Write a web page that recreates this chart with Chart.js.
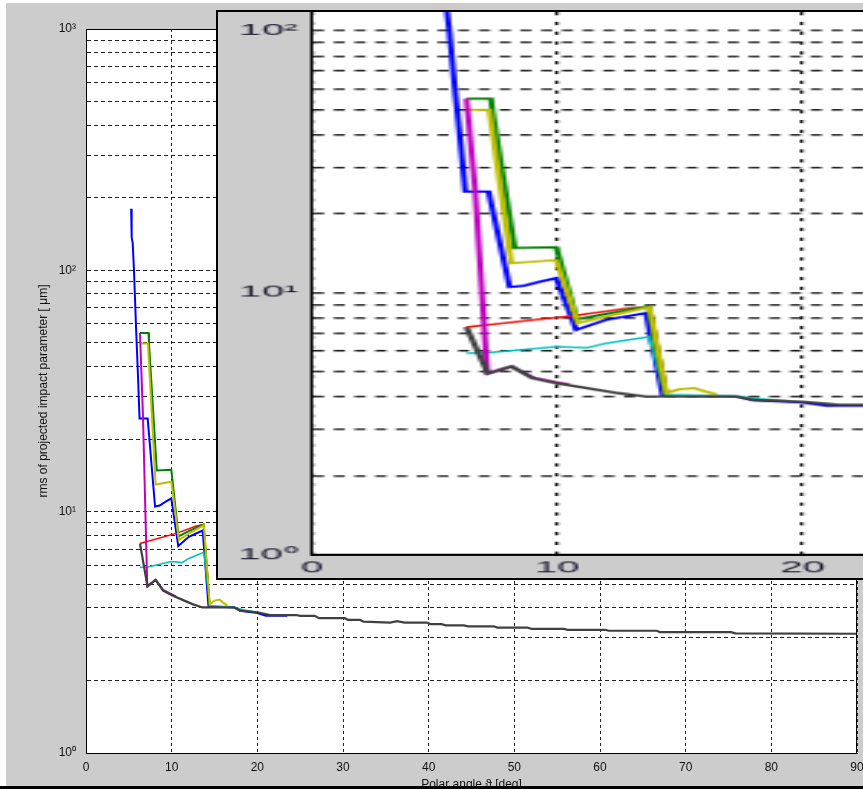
<!DOCTYPE html>
<html>
<head>
<meta charset="utf-8">
<script src="https://cdn.jsdelivr.net/npm/chart.js@4.4.1/dist/chart.umd.min.js"></script>
<style>
  html, body { margin: 0; padding: 0; width: 863px; height: 789px; overflow: hidden; background: #fff; }
  #figure { position: absolute; left: 6px; top: 3px; width: 857px; height: 783px; background: #cccccc; }
  #chart-main { position: absolute; left: 0; top: 0; z-index: 1; }
  #inset { position: absolute; left: 216px; top: 10px; width: 680px; height: 570px; box-sizing: border-box;
           border: 2px solid #000; background: #cccccc; overflow: hidden; z-index: 2; }
  #inset-stretch { position: absolute; left: 0; top: 0; width: 240px; height: 520px;
                   transform: scale(2.88, 1.09); transform-origin: 0 0; }
  #bottom-bar { position: absolute; left: 0; top: 786px; width: 863px; height: 3px; background: #000; z-index: 3; }
</style>
</head>
<body>
<div id="figure"></div>
<canvas id="chart-main" width="863" height="800"></canvas>
<div id="inset">
  <div id="inset-stretch"><canvas id="chart-inset" width="240" height="520"></canvas></div>
</div>
<div id="bottom-bar"></div>
<script>
// tick positions
const mainAngleTicks = [0, 10, 20, 30, 40, 50, 60, 70, 80, 90];
const insetAngleTicks = [0, 10, 20];
const mainRmsTicks = [1, 2, 3, 4, 5, 6, 7, 8, 9, 10, 20, 30, 40, 50, 60, 70, 80, 90,
  100, 200, 300, 400, 500, 600, 700, 800, 900, 1000];
const insetRmsTicks = [1, 2, 3, 4, 5, 6, 7, 8, 9, 10, 20, 30, 40, 50, 60, 70, 80, 90, 100];
const decadeLabels = { 1: '10\u2070', 10: '10\u00b9', 100: '10\u00b2', 1000: '10\u00b3' };

// per-curve start (polar angle in deg, rms in um)
const blackAngle = [6.3, 7.18, 8.13, 9.0, 9.96, 11.2, 12.5, 13.6];
const blackRms = [7.38, 4.9, 5.22, 4.71, 4.51, 4.32, 4.13, 4.01];

const magentaAngle = [6.3, 6.65, 7.15, 8.13, 9.0, 9.96, 10.5];
const magentaRms = [55, 25, 4.92, 5.22, 4.74, 4.55, 4.46];

const yellowAngle = [6.3, 7.23, 8.13, 9.96, 10.84, 12.0, 13.76, 14.44, 15.0, 15.6, 16.0, 16.5];
const yellowRms = [49.8, 49.8, 12.95, 13.3, 7.64, 8.1, 8.8, 4.13, 4.28, 4.32, 4.2, 4.08];

const greenAngle = [6.3, 7.3, 7.35, 8.26, 9.96, 10.8, 12.0, 13.72, 14.42];
const greenRms = [55, 55, 50, 14.8, 14.9, 7.9, 8.3, 8.85, 4.12];

const redAngle = [6.3, 10.63, 12.8, 13.76, 14.44];
const redRms = [7.38, 8.15, 8.7, 8.85, 4.13];

const cyanAngle = [6.3, 7.23, 9.96, 11.2, 12.0, 13.76, 14.44, 17.3, 18.3, 19.5];
const cyanRms = [5.87, 5.9, 6.22, 6.15, 6.4, 6.79, 4.08, 4.03, 3.92, 3.86];

const blueAngle = [5.27, 5.33, 5.45, 5.6, 5.85, 6.05, 6.25, 7.2, 8.06, 8.6, 9.3, 9.96, 10.77, 12.0, 13.62, 14.3,
  17.3, 18.0, 20.0, 21.0, 23.5];
const blueRms = [180, 137, 130, 100, 57, 38, 24.3, 24.3, 10.5, 10.6, 11.0, 11.35, 7.2, 7.87, 8.35, 4.05,
  4.01, 3.88, 3.80, 3.70, 3.70];

// tail where all curves lie on top of each other (drawn with the black curve)
const tailAngle = [17.3, 18.0, 20.0, 21.5, 24.5, 25.0, 26.7, 27.2, 30.2, 30.6, 32.0, 32.4, 35.5, 36.3, 37.2,
  39.8, 40.2, 41.5, 42.0, 44.1, 44.6, 47.6, 48.0, 51.5, 52.0, 55.8, 56.2, 60.6, 61.0, 66.6, 67.0, 75.3, 75.8, 90];
const tailRms = [4.01, 3.89, 3.83, 3.73, 3.73, 3.70, 3.70, 3.62, 3.62, 3.56, 3.56, 3.50, 3.47, 3.52, 3.47,
  3.47, 3.42, 3.42, 3.38, 3.38, 3.35, 3.35, 3.31, 3.31, 3.27, 3.27, 3.24, 3.24, 3.21, 3.21, 3.17, 3.17, 3.13, 3.12];

const FONT = '"Liberation Sans", Arial, Helvetica, sans-serif';

// first entry is drawn on top
const SERIES = [
  { angle: blackAngle.concat(tailAngle), rms: blackRms.concat(tailRms), color: '#404040', width: 2.2 },
  { angle: magentaAngle, rms: magentaRms, color: '#bf00bf', width: 2 },
  { angle: yellowAngle, rms: yellowRms, color: '#bfbf00', width: 2 },
  { angle: greenAngle, rms: greenRms, color: '#008000', width: 2 },
  { angle: redAngle, rms: redRms, color: '#ff0000', width: 1.5 },
  { angle: cyanAngle, rms: cyanRms, color: '#00bfbf', width: 1.5 },
  { angle: blueAngle, rms: blueRms, color: '#0000ff', width: 2 }
];

function buildDatasets() {
  return SERIES.map((s) => ({
    data: s.angle.map((x, i) => ({ x, y: s.rms[i] })),
    borderColor: s.color,
    borderWidth: s.width,
    pointRadius: 0,
    tension: 0,
    fill: false
  }));
}

const plotArea = {
  id: 'plotArea',
  beforeDraw(chart) {
    const { ctx, chartArea: a } = chart;
    ctx.save();
    ctx.fillStyle = '#ffffff';
    ctx.fillRect(a.left, a.top, a.right - a.left, a.bottom - a.top);
    ctx.restore();
  },
  afterDatasetsDraw(chart, args, opts) {
    if (!opts.frame) return;
    const { ctx, chartArea: a } = chart;
    ctx.save();
    ctx.strokeStyle = '#000';
    ctx.lineWidth = 1;
    ctx.beginPath();
    ctx.moveTo(a.left, a.top + 0.5);
    ctx.lineTo(a.right - 0.5, a.top + 0.5);
    ctx.lineTo(a.right - 0.5, a.bottom);
    ctx.stroke();
    ctx.restore();
  }
};

function fixedTicks(values) {
  return (scale) => { scale.ticks = values.map(v => ({ value: v })); };
}

function makeChart(canvasId, cfg) {
  return new Chart(document.getElementById(canvasId), {
    type: 'line',
    data: { datasets: buildDatasets() },
    options: {
      responsive: false,
      animation: false,
      events: [],
      layout: { padding: cfg.padding },
      plugins: { legend: { display: false }, tooltip: { enabled: false }, plotArea: { frame: cfg.frame } },
      scales: {
        x: {
          type: 'linear',
          min: 0,
          max: cfg.xMax,
          afterBuildTicks: fixedTicks(cfg.xTicks),
          afterFit: (s) => { s.height = cfg.xHeight; s.paddingLeft = 0; s.paddingRight = 0; },
          grid: { color: cfg.gridColor, lineWidth: cfg.xGridWidth, drawTicks: false },
          border: { display: true, color: '#000', width: cfg.xBorder, dash: cfg.xDash },
          ticks: { autoSkip: false, maxRotation: 0, padding: cfg.xPad, color: cfg.textColor,
                   font: { family: FONT, size: cfg.fontSize } },
          title: cfg.xTitle
        },
        y: {
          type: 'logarithmic',
          min: 1,
          max: cfg.yMax,
          afterBuildTicks: fixedTicks(cfg.yTicks),
          afterFit: (s) => { s.width = cfg.yWidth; s.paddingTop = 0; s.paddingBottom = 0; },
          grid: { color: cfg.gridColor, lineWidth: cfg.yGridWidth, drawTicks: false },
          border: { display: true, color: '#000', width: 1, dash: cfg.yDash },
          ticks: { autoSkip: false, padding: cfg.yPad, color: cfg.textColor,
                   font: { family: FONT, size: cfg.fontSize },
                   callback: (v) => decadeLabels[v] || '' },
          title: cfg.yTitle
        }
      }
    },
    plugins: [plotArea]
  });
}

makeChart('chart-main', {
  padding: { top: 29, right: 6, left: 0, bottom: 0 },
  frame: true,
  xMax: 90, xTicks: mainAngleTicks, xHeight: 47, xPad: 7, xBorder: 1,
  yMax: 1000, yTicks: mainRmsTicks, yWidth: 86, yPad: 10,
  gridColor: '#222', xGridWidth: 1, yGridWidth: 1, xDash: [3, 3], yDash: [4, 3],
  textColor: '#111', fontSize: 12,
  xTitle: { display: true, text: 'Polar angle \u03d1 [deg]', color: '#111',
            font: { family: FONT, size: 12 }, padding: { top: 0, bottom: 8 } },
  yTitle: { display: true, text: 'rms of projected impact parameter [ \u03bcm]', color: '#111',
            font: { family: FONT, size: 12 }, padding: { top: 36, bottom: 0 } }
});

// inset: same data, drawn small then stretched by the CSS transform
makeChart('chart-inset', {
  padding: { top: 0, right: 0, left: 0, bottom: 0 },
  frame: false,
  xMax: 24.35, xTicks: insetAngleTicks, xHeight: 22.3, xPad: 4, xBorder: 2,
  yMax: 117.7, yTicks: insetRmsTicks, yWidth: 32.6, yPad: 5,
  gridColor: '#1a1a1a', xGridWidth: 1.2, yGridWidth: 1.6, xDash: [3, 6], yDash: [3.8, 3.4],
  textColor: '#1a1a2e', fontSize: 14,
  xTitle: { display: false },
  yTitle: { display: false }
});
</script>
</body>
</html>
